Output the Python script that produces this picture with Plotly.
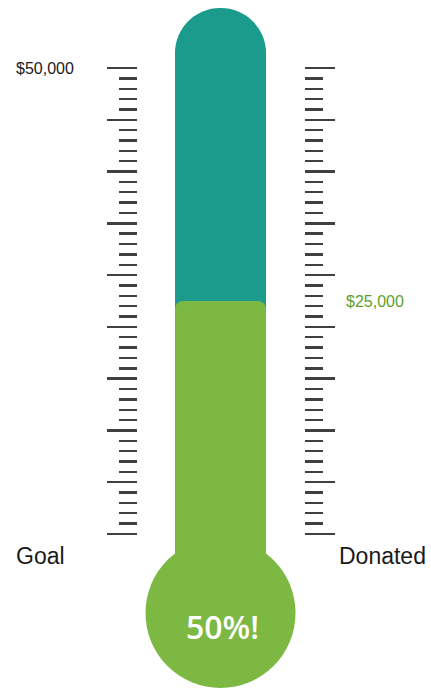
import plotly.graph_objects as go

# ---- data ----
goal = 50000
donated = 25000
n_minor = 45          # minor divisions on the scale
major_every = 5       # every 5th tick is long
goal_label = "$50,000"
donated_label = "$25,000"
pct_label = f"{round(donated / goal * 100)}%!"
left_title = "Goal"
right_title = "Donated"

# ---- layout constants (pixels) ----
W, H = 431, 690
zero_px = 534          # pixel row of $0
goal_px = 68           # pixel row of goal
ppv = (zero_px - goal_px) / goal          # pixels per dollar
y_lo = -(H - zero_px) / ppv
y_hi = zero_px / ppv
cx = 220.5
tube_w = 91
bulb_d = 150
bulb_center_px = 613
tube_top_px = 8

def px_to_val(py):
    return (zero_px - py) / ppv

TEAL = "#1A9B8B"
GREEN = "#7DB843"
TICK = "#404040"

tick_vals = [i * goal / n_minor for i in range(n_minor + 1)]
major_vals = [v for i, v in enumerate(tick_vals) if i % major_every == 0]
minor_vals = [v for i, v in enumerate(tick_vals) if i % major_every != 0]

fig = go.Figure()

# tube (goal)
tube_base = px_to_val(bulb_center_px)
tube_top = px_to_val(tube_top_px)
fig.add_trace(go.Bar(x=[cx], y=[tube_top - tube_base], base=[tube_base], width=[tube_w],
                     marker=dict(color=TEAL, cornerradius=tube_w / 2, line=dict(width=0)),
                     hoverinfo="skip", showlegend=False))
# mercury (donated)
fig.add_trace(go.Bar(x=[cx], y=[donated - tube_base], base=[tube_base], width=[tube_w],
                     marker=dict(color=GREEN, cornerradius=8, line=dict(width=0)),
                     hoverinfo="skip", showlegend=False))
# bulb
fig.add_trace(go.Scatter(x=[cx], y=[tube_base], mode="markers",
                         marker=dict(size=bulb_d, color=GREEN, line=dict(width=0)),
                         hoverinfo="skip", showlegend=False))
# invisible trace for right scale
fig.add_trace(go.Scatter(x=[cx], y=[0], yaxis="y2", mode="markers",
                         marker=dict(size=1, opacity=0), hoverinfo="skip", showlegend=False))

axis_common = dict(range=[y_lo, y_hi], showgrid=False, zeroline=False, showline=False,
                   showticklabels=False, ticks="outside", tickmode="array",
                   tickvals=major_vals, ticklen=30, tickwidth=2.4, tickcolor=TICK,
                   minor=dict(tickmode="array", tickvals=minor_vals, ticks="outside",
                              ticklen=18, tickwidth=2.4, tickcolor=TICK, showgrid=False),
                   fixedrange=True)

fig.update_layout(
    width=W, height=H, autosize=False,
    margin=dict(l=0, r=0, t=0, b=0),
    paper_bgcolor="white", plot_bgcolor="white",
    barmode="overlay",
    xaxis=dict(range=[0, W], visible=False, domain=[0, 1], fixedrange=True),
    yaxis=dict(anchor="free", position=137 / W, side="left", **axis_common),
    yaxis2=dict(anchor="free", position=304 / W, side="right", overlaying="y", **axis_common),
    font=dict(family="Liberation Sans, Arial, sans-serif", color="#1a1a1a"),
    annotations=[
        dict(x=76, y=goal, xref="x", yref="y", text=goal_label, showarrow=False,
             xanchor="right", yanchor="middle", font=dict(size=16, color="#1a1a1a")),
        dict(x=344, y=donated, xref="x", yref="y", text=donated_label, showarrow=False,
             xanchor="left", yanchor="middle", font=dict(size=16, color="#5E9E2C")),
        dict(x=14, y=px_to_val(556), xref="x", yref="y", text=left_title, showarrow=False,
             xanchor="left", yanchor="middle", font=dict(size=23, color="#1a1a1a")),
        dict(x=428, y=px_to_val(556), xref="x", yref="y", text=right_title, showarrow=False,
             xanchor="right", yanchor="middle", font=dict(size=23, color="#1a1a1a")),
        dict(x=cx + 2, y=px_to_val(626), xref="x", yref="y", text=pct_label, showarrow=False,
             xanchor="center", yanchor="middle",
             font=dict(size=32, color="white", family="Open Sans, Lato, sans-serif", weight=600)),
    ],
)

fig.write_html("out.html", config={"displayModeBar": False, "staticPlot": True},
               post_script="document.body.style.margin='0px';document.body.style.overflow='hidden';")
